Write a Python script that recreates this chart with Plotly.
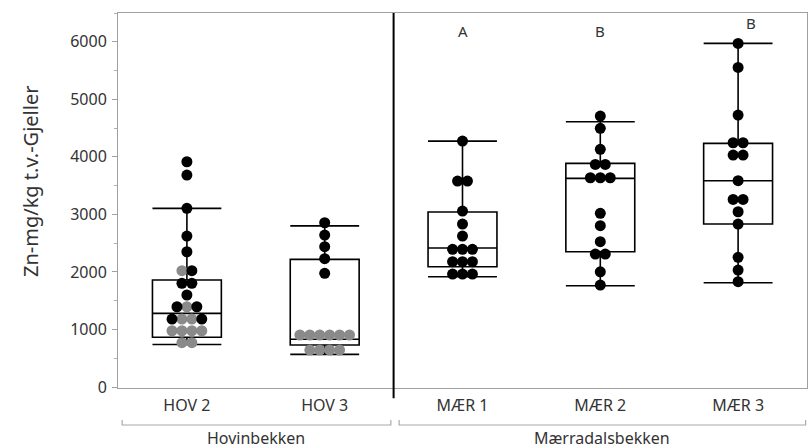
import plotly.graph_objects as go

# ---------------- data ----------------
categories = ["HOV 2", "HOV 3", "MÆR 1", "MÆR 2", "MÆR 3"]
groups = ["Hovinbekken", "Mærradalsbekken"]
letters = ["A", "B", "B"]
letter_values = [6190, 6190, 6330]

# individual observations (left-to-right order within a row), gray flag = 1
hov2_values = [3915, 3684, 3105, 2624, 2351, 2021, 2021, 1802, 1802, 1599,
               1395, 1395, 1395, 1180, 1180, 1180, 1180, 978, 978, 978, 978, 770, 770]
hov2_gray = [0, 0, 0, 0, 0, 1, 0, 0, 0, 0,
             0, 1, 0, 0, 1, 1, 0, 1, 1, 1, 1, 1, 1]
hov3_values = [2855, 2641, 2438, 2230, 1976, 904, 904, 904, 904, 904, 904,
               643, 643, 643, 643]
hov3_gray = [0, 0, 0, 0, 0, 1, 1, 1, 1, 1, 1, 1, 1, 1, 1]
maer1_values = [4274, 3579, 3579, 3058, 2832, 2624, 2393, 2393, 2393,
                2178, 2178, 2178, 1963, 1963, 1963]
maer2_values = [4709, 4495, 4130, 3869, 3869, 3637, 3637, 3637, 3018, 2803,
                2525, 2311, 2311, 2003, 1772]
maer3_values = [5972, 5555, 4726, 4245, 4245, 4031, 4031, 3585, 3261, 3261,
                3046, 2832, 2254, 2033, 1830]

# box statistics as drawn
box_lower = [740, 568, 1917, 1760, 1812]
box_q1 = [864, 730, 2091, 2351, 2832]
box_median = [1280, 829, 2415, 3626, 3585]
box_q3 = [1859, 2219, 3041, 3887, 4235]
box_upper = [3105, 2800, 4274, 4610, 5972]

all_values = [hov2_values, hov3_values, maer1_values, maer2_values, maer3_values]
all_gray = [hov2_gray, hov3_gray, [0] * 15, [0] * 15, [0] * 15]

STEP = 0.072  # horizontal spacing of stacked dots (category units)


def swarm(values, center):
    rows = {}
    for i, v in enumerate(values):
        rows.setdefault(v, []).append(i)
    xs = [0.0] * len(values)
    for v, idx in rows.items():
        n = len(idx)
        for k, i in enumerate(idx):
            xs[i] = center + (k - (n - 1) / 2) * STEP
    return xs


fig = go.Figure()

pos = list(range(len(categories)))
fig.add_trace(go.Box(
    x=pos, q1=box_q1, median=box_median, q3=box_q3,
    lowerfence=box_lower, upperfence=box_upper,
    width=0.5, whiskerwidth=1, boxpoints=False,
    fillcolor="rgba(255,255,255,0)",
    line=dict(color="black", width=1.6),
    hoverinfo="skip", showlegend=False,
))

for ci, (vals, gray) in enumerate(zip(all_values, all_gray)):
    xs = swarm(vals, ci)
    for flag, col in [(1, "#8a8a8a"), (0, "black")]:
        px = [x for x, g in zip(xs, gray) if g == flag]
        py = [v for v, g in zip(vals, gray) if g == flag]
        if px:
            fig.add_trace(go.Scatter(
                x=px, y=py, mode="markers",
                marker=dict(color=col, size=11, line=dict(width=0)),
                showlegend=False, hoverinfo="skip",
            ))

# letters above MÆR groups
for k, (t, v) in enumerate(zip(letters, letter_values)):
    xc = 2 + k + (0.09 if k == 2 else 0)
    fig.add_annotation(x=xc, y=v, text=t, showarrow=False,
                       font=dict(size=15, color="#333333"))

# divider between stream groups
fig.add_shape(type="line", xref="x", yref="paper", x0=1.5, x1=1.5,
              y0=-0.027, y1=1, line=dict(color="black", width=2))

# group brackets and labels
brackets = [(-0.5 + 0.03, 1.5 - 0.02), (1.5 + 0.04, 4.5 - 0.01)]
by = (388 - 425) / 375
bt = (388 - 420) / 375
for (a, b), name in zip(brackets, groups):
    fig.add_shape(type="path", xref="x", yref="paper",
                  path=f"M {a},{bt} L {a},{by} L {b},{by} L {b},{bt}",
                  line=dict(color="#a8a8a8", width=1.2))
    fig.add_annotation(x=(a + b) / 2, xref="x", y=(388 - 438) / 375, yref="paper",
                       yanchor="middle", text=name, showarrow=False,
                       font=dict(size=16, color="#333333"))

# y title
fig.add_annotation(x=(30 - 118) / 689, xref="paper", y=(388 - 182) / 375, yref="paper",
                   xanchor="center", yanchor="middle",
                   text="Zn-mg/kg t.v.-Gjeller", textangle=-90, showarrow=False,
                   font=dict(size=20, color="#333333"))

fig.update_layout(
    width=809, height=448,
    margin=dict(l=118, r=2, t=13, b=60),
    paper_bgcolor="white", plot_bgcolor="white",
    font=dict(family="Noto Sans, Open Sans, sans-serif", size=16, color="#333333"),
    showlegend=False,
)
fig.update_xaxes(
    range=[-0.5, 4.5], tickvals=pos, ticktext=categories,
    showgrid=False, zeroline=False, showline=True, mirror=True,
    linecolor="#a0a0a0", linewidth=1, ticks="", ticklabelstandoff=3,
    tickfont=dict(size=16, color="#333333"),
)
fig.update_yaxes(
    range=[-17, 6500], tickvals=[0, 1000, 2000, 3000, 4000, 5000, 6000],
    showgrid=False, zeroline=False, showline=True, mirror=True,
    linecolor="#a0a0a0", linewidth=1, ticks="outside", ticklen=5,
    tickcolor="#a0a0a0", ticklabelstandoff=2,
    minor=dict(dtick=500, ticks="outside", ticklen=3, tickcolor="#b0b0b0"),
    tickfont=dict(size=16, color="#333333"),
)

fig.write_html("out.html")
